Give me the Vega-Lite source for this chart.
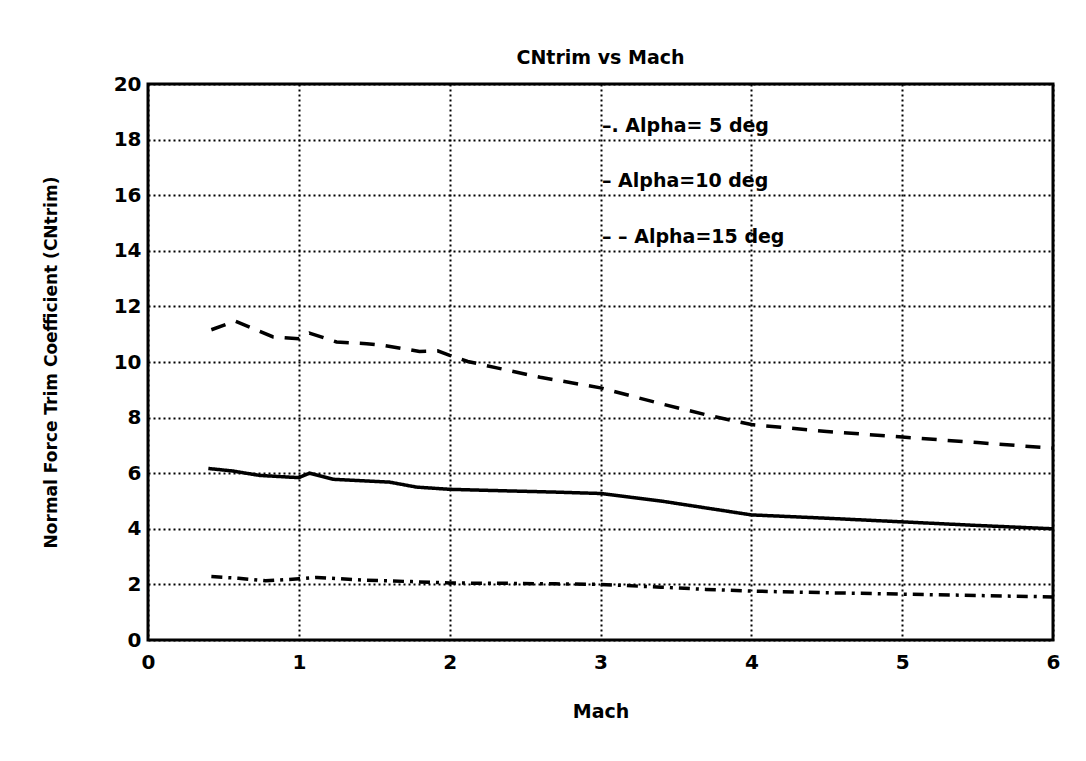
{
  "$schema": "https://vega.github.io/schema/vega-lite/v6.json",
  "width": 905,
  "height": 556,
  "autosize": {"type": "none"},
  "padding": {"left": 148, "top": 84, "right": 33, "bottom": 121},
  "background": "white",
  "title": {"text": "CNtrim vs Mach", "fontSize": 19, "font": "DejaVu Sans", "fontWeight": "bold", "offset": 6, "color": "black"},
  "config": {
    "view": {"stroke": "black", "strokeWidth": 3},
    "font": "DejaVu Sans"
  },
  "datasets": {
    "curves": [
      {"series": "a5", "mach": 0.42, "cn": 2.28}, {"series": "a5", "mach": 0.6, "cn": 2.22}, {"series": "a5", "mach": 0.78, "cn": 2.13}, {"series": "a5", "mach": 1.0, "cn": 2.2}, {"series": "a5", "mach": 1.12, "cn": 2.25}, {"series": "a5", "mach": 1.45, "cn": 2.15}, {"series": "a5", "mach": 1.75, "cn": 2.1}, {"series": "a5", "mach": 2.0, "cn": 2.05}, {"series": "a5", "mach": 2.33, "cn": 2.04}, {"series": "a5", "mach": 2.7, "cn": 2.02}, {"series": "a5", "mach": 3.0, "cn": 2.0}, {"series": "a5", "mach": 3.4, "cn": 1.9}, {"series": "a5", "mach": 3.7, "cn": 1.82}, {"series": "a5", "mach": 4.0, "cn": 1.76}, {"series": "a5", "mach": 4.5, "cn": 1.7}, {"series": "a5", "mach": 5.0, "cn": 1.65}, {"series": "a5", "mach": 5.5, "cn": 1.6}, {"series": "a5", "mach": 6.0, "cn": 1.55},
      {"series": "a10", "mach": 0.4, "cn": 6.17}, {"series": "a10", "mach": 0.56, "cn": 6.08}, {"series": "a10", "mach": 0.74, "cn": 5.92}, {"series": "a10", "mach": 1.0, "cn": 5.84}, {"series": "a10", "mach": 1.07, "cn": 6.0}, {"series": "a10", "mach": 1.23, "cn": 5.78}, {"series": "a10", "mach": 1.6, "cn": 5.68}, {"series": "a10", "mach": 1.78, "cn": 5.5}, {"series": "a10", "mach": 2.0, "cn": 5.42}, {"series": "a10", "mach": 2.34, "cn": 5.37}, {"series": "a10", "mach": 2.7, "cn": 5.32}, {"series": "a10", "mach": 3.0, "cn": 5.27}, {"series": "a10", "mach": 3.4, "cn": 5.0}, {"series": "a10", "mach": 3.7, "cn": 4.75}, {"series": "a10", "mach": 4.0, "cn": 4.5}, {"series": "a10", "mach": 4.5, "cn": 4.38}, {"series": "a10", "mach": 5.0, "cn": 4.25}, {"series": "a10", "mach": 5.5, "cn": 4.12}, {"series": "a10", "mach": 6.0, "cn": 4.0},
      {"series": "a15", "mach": 0.42, "cn": 11.16}, {"series": "a15", "mach": 0.58, "cn": 11.47}, {"series": "a15", "mach": 0.83, "cn": 10.9}, {"series": "a15", "mach": 1.0, "cn": 10.84}, {"series": "a15", "mach": 1.07, "cn": 11.04}, {"series": "a15", "mach": 1.25, "cn": 10.72}, {"series": "a15", "mach": 1.45, "cn": 10.66}, {"series": "a15", "mach": 1.56, "cn": 10.6}, {"series": "a15", "mach": 1.8, "cn": 10.38}, {"series": "a15", "mach": 1.92, "cn": 10.4}, {"series": "a15", "mach": 2.0, "cn": 10.24}, {"series": "a15", "mach": 2.12, "cn": 10.02}, {"series": "a15", "mach": 2.32, "cn": 9.78}, {"series": "a15", "mach": 2.6, "cn": 9.45}, {"series": "a15", "mach": 3.0, "cn": 9.07}, {"series": "a15", "mach": 3.4, "cn": 8.5}, {"series": "a15", "mach": 3.7, "cn": 8.1}, {"series": "a15", "mach": 4.0, "cn": 7.75}, {"series": "a15", "mach": 4.5, "cn": 7.5}, {"series": "a15", "mach": 5.0, "cn": 7.3}, {"series": "a15", "mach": 5.5, "cn": 7.1}, {"series": "a15", "mach": 6.0, "cn": 6.9}
    ],
    "labels": [
      {"label": "–. Alpha= 5 deg", "mach": 3.01, "cn": 18.5},
      {"label": "–  Alpha=10 deg", "mach": 3.01, "cn": 16.52},
      {"label": "– – Alpha=15 deg", "mach": 3.01, "cn": 14.5}
    ]
  },
  "layer": [
    {
      "data": {"name": "curves"},
      "mark": {"type": "line", "color": "black", "strokeWidth": 3.5},
      "encoding": {
        "x": {
          "field": "mach", "type": "quantitative",
          "scale": {"domain": [0, 6], "nice": false, "zero": false},
          "axis": {
            "values": [0, 1, 2, 3, 4, 5, 6], "format": "d", "title": "Mach",
            "grid": true, "gridColor": "black", "gridDash": [2, 3], "gridWidth": 2, "gridOpacity": 1,
            "domain": false, "ticks": false, "labelPadding": 12, "labelFlush": false,
            "labelFont": "DejaVu Sans", "labelFontSize": 20, "labelFontWeight": "bold", "labelColor": "black",
            "titleFont": "DejaVu Sans", "titleFontSize": 19, "titleFontWeight": "bold", "titleColor": "black", "titlePadding": 30
          }
        },
        "y": {
          "field": "cn", "type": "quantitative",
          "scale": {"domain": [0, 20], "nice": false},
          "axis": {
            "values": [0, 2, 4, 6, 8, 10, 12, 14, 16, 18, 20], "title": "Normal Force Trim Coefficient (CNtrim)",
            "grid": true, "gridColor": "black", "gridDash": [2, 3], "gridWidth": 2, "gridOpacity": 1,
            "domain": false, "ticks": false, "labelPadding": 7, "labelFlush": false,
            "labelFont": "DejaVu Sans", "labelFontSize": 20, "labelFontWeight": "bold", "labelColor": "black",
            "titleFont": "DejaVu Sans", "titleFontSize": 17, "titleFontWeight": "bold", "titleColor": "black", "titlePadding": 53
          }
        },
        "detail": {"field": "series"},
        "strokeDash": {
          "field": "series", "type": "nominal",
          "scale": {"domain": ["a5", "a10", "a15"], "range": [[11, 6, 3, 6], [1, 0], [15, 11]]},
          "legend": null
        }
      }
    },
    {
      "data": {"name": "labels"},
      "mark": {"type": "text", "align": "left", "baseline": "middle", "font": "DejaVu Sans", "fontSize": 19, "fontWeight": "bold", "color": "black"},
      "encoding": {
        "x": {"field": "mach", "type": "quantitative"},
        "y": {"field": "cn", "type": "quantitative"},
        "text": {"field": "label"}
      }
    }
  ]
}
